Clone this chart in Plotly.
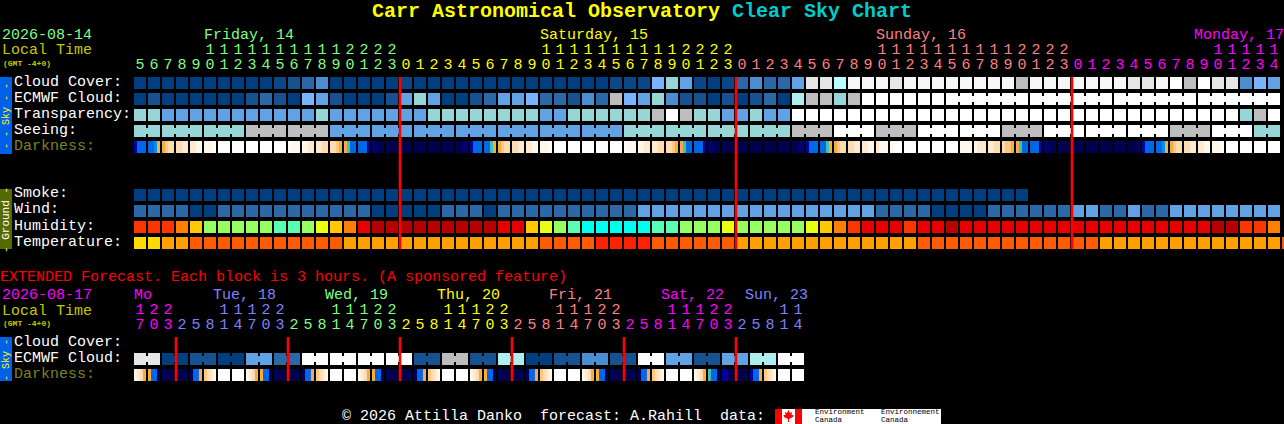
import plotly.graph_objects as go

W, H = 1284, 424
# ---------- data ----------
CLOUD = "a"*10 + "bcde" + "a"*5 + "ba" + "a"*13 + "bbb" + "ghfbabdeddf" + "kkIl" + "llk" + "l"*8 + "j" + "l"*7 + "kklmjmkk" + "egf"
ECMWF = "acaaaaaacdcagfcaaacfhf" + "aacdffgddcedjgfhecca" + "cacdaijjhj" + "m"*30
TRANSP = "hh" + "f"*11 + "h" + "f"*7 + "h"*8 + "ff" + "h"*6 + "jmjhhffhff" + "m"*32 + "hjm"
SEEING = "h"*8 + "j"*6 + "f"*21 + "h"*12 + "jjj" + "mmm" + "jjj" + "m"*6 + "jjj" + "m"*9 + "jjj" + "mmm" + "hh"
SMOKE = "a"*64
WIND = "dddd" + "aa" + "d"*11 + "aaaa" + "a" + "ddd" + "a" + "d"*10 + "f"*17 + "dddd" + "aaaa" + "d"*6 + "ff" + "dd" + "f" + "dd" + "f"*8
HUMID = "FFFOYGGGGGMMGZYOR" + "SSSSSSSSS" + "RRYZGMCCCCCMMGGGZGGGGGZYOF" + "RRRFRRSR" + "R"*17 + "SSFFO"
TEMP = "YYAA" + "D"*11 + "A"*14 + "DDDD" + "EEEE" + "D"*6 + "A"*11 + "AA" + "D"*13 + "A"*13 + "DD"
DARK = ("DBBB BBCO OPQQ QQRR RRSS SSSW WWWW WWWW WWWW WWWW WWWW WSSS SSRR RRQQ QQPO OTBB BBBD nnNN "
        "NNNN NNNN NNNN NNNN NNNN NNnn DBBB BBTO OPQQ QQRR RRSS SSSW WWWW WWWW WWWW WWWW WWWW WSSS "
        "SSRR RRQQ QQPO OTBB BBBD nnNN NNNN NNNN NNNN NNNN NNNN NNnn DBBB BBTO OPQQ QQRR RRSS RSSS "
        "SWWW WWWW WWWW WWWW WWWW SSSS SRRR RRQQ QPPO OTBB BBBD nnNN NNNN NNNN NNNN NNNN NNNN NNNn "
        "DBBB BBCO OPQQ QQRR RRSS SSSW WWWW WWWW WWWW WWWW").split()
EXT_ECMWF = list("kacafdmmmmcjciacecmfcfim")
EXT_DARK = ("SRQO OBBN NNNN NNNN NBBO PQRS WWWW WWWW SRQO OBBN NNNN NNNN NBBO PQRS WWWW WWWW "
            "SRQO OBBN NNNN NNNN NBBO PQRS WWWW WWWW SRQO OBBN NNNN NNNN NBBO PQRS WWWW WWWW "
            "SRQO OBBN NNNN NNNN NBBO PQRS WWWW WWWW SRQO TBBN DDNN NNNN DBBO PQRS WWWW WWWW").split()
MAIN_HOURS = [5,6,7,8,9,10,11,12,13,14,15,16,17,18,19,20,21,22,23] + list(range(24))*2 + list(range(15))
MAIN_DAYS = ["Friday, 14", "Saturday, 15", "Sunday, 16", "Monday, 17"]
EXT_HOURS = [17,20,23] + [2,5,8,11,14,17,20,23]*5 + [2,5,8,11,14]
EXT_DAYS = ["Mo", "Tue, 18", "Wed, 19", "Thu, 20", "Fri, 21", "Sat, 22", "Sun, 23"]
SEEING_GROUPS = [(0,1)] + [(i, i+2) for i in range(2, 80, 3)] + [(80,81)]
ECMWF_GROUPS = [(58,63),(64,69),(70,75),(76,81)]
EXT_GROUPS = [(i, i+1) for i in range(0, 48, 2)]
MIDNIGHT = [19, 43, 67]
EXT_MIDNIGHT = [3, 11, 19, 27, 35, 43]

# ---------- styles ----------
LEVEL = dict(a="#003f7f", b="#0b4787", c="#15528f", d="#2a68a8", e="#4c8cd0", f="#60a2e4", g="#78b4ff",
             h="#96d6d6", i="#aeeeee", I="#b8ffff", j="#bdbdbd", k="#e6e6e6", l="#f6f6f6", m="#ffffff")
HUM = dict(F="#ff3500", O="#ff8000", Y="#ffc800", G="#98ff60", M="#58ffb0", Z="#e8ff10", R="#e80000", S="#b80000", C="#00ffee")
TMP = dict(Y="#ffdc00", A="#ffa000", D="#ff5c00", E="#ff2000")
DRK = dict(N="#00004e", n="#000070", D="#0000a8", B="#0068e8", C="#0090f0", T="#40c0b0", O="#f4ac40",
           P="#ffc880", Q="#ffdcb0", R="#ffead0", S="#fff6ec", W="#ffffff")
GREEN, YEL, SAL, MAG, VIO = "#80ff80", "#ffff00", "#ff8080", "#ff00ff", "#8080ff"
MONO = "Liberation Mono"

def rowy(py):
    return (py - 83) / 16

def colx(px):
    return (px - 140) / 14

fig = go.Figure()
ROW_H = 12 / 16
CELL_W = 12 / 14

def add_cells(colors, py):
    fig.add_trace(go.Bar(x=list(range(len(colors))), y=[ROW_H]*len(colors), base=[rowy(py)-ROW_H/2]*len(colors),
                         width=CELL_W, marker=dict(color=colors, line=dict(width=0))))

def add_links(colors, groups, py):
    xs, cs = [], []
    for a, b in groups:
        for i in range(a, b):
            xs.append(i + 0.5); cs.append(colors[i])
    fig.add_trace(go.Bar(x=xs, y=[6/16]*len(xs), base=[rowy(py)-3/16]*len(xs), width=2/14,
                         marker=dict(color=cs, line=dict(width=0))))

def add_strips(tokens, py):
    xs, cs = [], []
    for i, tok in enumerate(tokens):
        for s, ch in enumerate(tok):
            xs.append(i + (s - 1.5) * 3 / 14); cs.append(DRK[ch])
    fig.add_trace(go.Bar(x=xs, y=[ROW_H]*len(xs), base=[rowy(py)-ROW_H/2]*len(xs), width=3/14,
                         marker=dict(color=cs, line=dict(width=0))))

def c(s, pal=LEVEL):
    return [pal[ch] for ch in s]

add_cells(c(CLOUD), 83)
e = c(ECMWF); add_cells(e, 99); add_links(e, ECMWF_GROUPS, 99)
add_cells(c(TRANSP), 115)
s = c(SEEING); add_cells(s, 131); add_links(s, SEEING_GROUPS, 131)
add_strips(DARK, 147)
add_cells(c(SMOKE), 195)
add_cells(c(WIND), 211)
add_cells(c(HUMID, HUM), 227)
add_cells(c(TEMP, TMP), 243)

ee = []
for v in EXT_ECMWF:
    ee += [LEVEL[v], LEVEL[v]]
add_cells(ee, 359); add_links(ee, EXT_GROUPS, 359)
add_strips(EXT_DARK, 375)

# midnight markers
RED_W = 2.6 / 14
fig.add_trace(go.Bar(x=[m - 3/7 for m in MIDNIGHT], y=[(249-77)/16]*3, base=[rowy(77)]*3, width=RED_W,
                     marker=dict(color="#ff0000", line=dict(width=0))))
fig.add_trace(go.Bar(x=[m - 3/7 for m in EXT_MIDNIGHT], y=[(381-337)/16]*6, base=[rowy(337)]*6, width=RED_W,
                     marker=dict(color="#ff0000", line=dict(width=0))))

# hour digits
def hour_traces(hours, day_colors, py_tens, py_ones):
    cols, day = [], 0
    prev = None
    for h in hours:
        if prev is not None and h < prev:
            day += 1
        cols.append(day_colors[day]); prev = h
    x = list(range(len(hours)))
    fig.add_trace(go.Scatter(x=x, y=[rowy(py_ones)]*len(x), mode="text", text=[str(h % 10) for h in hours],
                             textposition="middle center", cliponaxis=False,
                             textfont=dict(family=MONO, size=15, color=cols)))
    tx = [i for i, h in enumerate(hours) if h >= 10]
    fig.add_trace(go.Scatter(x=tx, y=[rowy(py_tens)]*len(tx), mode="text", text=[str(hours[i] // 10) for i in tx],
                             textposition="middle center", cliponaxis=False,
                             textfont=dict(family=MONO, size=15, color=[cols[i] for i in tx])))

hour_traces(MAIN_HOURS, [GREEN, YEL, SAL, MAG], 50, 65)
hour_traces(EXT_HOURS, [MAG, VIO, GREEN, YEL, SAL, MAG, VIO], 310, 325)

ann = []
def label(px, py, text, color, size=15, bold=False, anchor="left", angle=0, family=MONO):
    ann.append(dict(xref="paper", yref="paper", x=px/W, y=1-(py+1)/H, text=f"<b>{text}</b>" if bold else text,
                    showarrow=False, xanchor=anchor, yanchor="middle", textangle=angle, borderpad=0, borderwidth=0,
                    font=dict(family=family, size=size, color=color)))

label(642, 11, '<span style="color:#ffff00">Carr Astronomical Observatory</span> <span style="color:#00cccc">Clear Sky Chart</span>',
      "#ffff00", 20, True, "center")
label(2, 35, "2026-08-14", GREEN)
label(2, 50, "Local Time", "#c8c800")
label(3, 62, "(GMT -4+0)", "#c8c800", 8, True)
for t, px, col in zip(MAIN_DAYS, [204, 540, 876, 1194], [GREEN, YEL, SAL, MAG]):
    label(px, 35, t, col)
for t, py in zip(["Cloud Cover:", "ECMWF Cloud:", "Transparency:", "Seeing:"], [81, 97, 113, 129]):
    label(14, py, t, "#ffffff")
label(14, 145, "Darkness:", "#808020")
for t, py in zip(["Smoke:", "Wind:", "Humidity:", "Temperature:"], [193, 209, 225, 241]):
    label(14, py, t, "#ffffff")
label(0, 276, "EXTENDED Forecast. Each block is 3 hours. (A sponsored feature)", "#ff0000")
label(2, 294, "2026-08-17", MAG)
label(2, 310, "Local Time", "#c8c800")
label(3, 322, "(GMT -4+0)", "#c8c800", 8, True)
for t, px, col in zip(EXT_DAYS, [134, 213, 325, 437, 549, 661, 745], [MAG, VIO, GREEN, YEL, SAL, MAG, VIO]):
    label(px, 294, t, col)
label(14, 341, "Cloud Cover:", "#ffffff")
label(14, 357, "ECMWF Cloud:", "#ffffff")
label(14, 373, "Darkness:", "#808020")
label(342, 415, "© 2026 Attilla Danko  forecast: A.Rahill  data:".replace("  ", "\u00a0\u00a0"), "#ffffff")
label(6, 115, "- - Sky - -", "#ffff00", 10, False, "center", -90)
label(6, 219, "- Ground -", "#ffffff", 11, False, "center", -90)
label(6, 359, "- Sky -", "#ffff00", 10, False, "center", -90)
for px, word in [(815, "Environment"), (881, "Environnement")]:
    label(px, 411, word, "#000000", 7.5)
    label(px, 418.5, "Canada", "#000000", 7.5)

def rect(x0, y0, x1, y1, color):
    return dict(type="rect", xref="paper", yref="paper", x0=x0/W, x1=x1/W, y0=1-y0/H, y1=1-y1/H,
                fillcolor=color, line=dict(width=0), layer="below")

shapes = [rect(0, 77, 12, 154, "#0060e8"), rect(0, 189, 12, 249, "#556b00"), rect(0, 337, 12, 381, "#0060e8"),
          rect(775, 409, 941, 424, "#ffffff"), rect(775, 409, 782, 424, "#ff0000"), rect(795, 409, 802, 424, "#ff0000")]
leaf = [(788.5,410),(790,413),(792,412),(791.5,415),(793.5,415),(793,417),(789,419),(789,422),(788,422),(788,419),
        (784,417),(783.5,415),(785.5,415),(785,412),(787,413)]
path = "M " + " L ".join(f"{px/W:.5f},{1-py/H:.5f}" for px, py in leaf) + " Z"
shapes.append(dict(type="path", xref="paper", yref="paper", path=path, fillcolor="#ff0000", line=dict(width=0)))

fig.update_layout(width=W, height=H, autosize=False, margin=dict(l=0, r=0, t=0, b=0, pad=0),
                  paper_bgcolor="#000000", plot_bgcolor="#000000", showlegend=False, barmode="overlay",
                  hovermode=False, annotations=ann, shapes=shapes,
                  xaxis=dict(range=[colx(0), colx(W)], visible=False, fixedrange=True),
                  yaxis=dict(range=[rowy(H), rowy(0)], visible=False, fixedrange=True))
fig.write_html("out.html", config=dict(displayModeBar=False),
               post_script='document.body.style.margin="0";document.body.style.background="#000";document.body.style.overflow="hidden";')
